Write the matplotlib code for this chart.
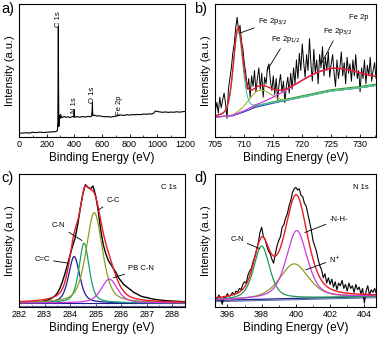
import numpy as np
import matplotlib
matplotlib.use("Agg")
import matplotlib.pyplot as plt

plt.rcParams['font.family'] = ['Liberation Sans', 'DejaVu Sans']

# ---- a) survey spectrum ----
survey_ev = [0, 25, 50, 75, 100, 125, 150, 175, 200, 225, 250, 270, 278, 281,
             283, 284.5, 286, 288, 290, 293, 297, 300, 310, 325, 340, 355, 370,
             385, 395, 398, 400, 402, 405, 420, 440, 460, 480, 500, 515, 525,
             529, 531, 533, 536, 545, 560, 580, 600, 620, 640, 660, 680, 700,
             720, 740, 760, 780, 800, 820, 840, 860, 880, 900, 920, 940, 960,
             975, 985, 1000, 1020, 1040, 1060, 1080, 1100, 1120, 1140, 1160,
             1180, 1200]
survey_int = [2.8, 3.0, 3.2, 3.0, 3.6, 3.3, 3.7, 3.4, 3.6, 3.8, 3.9, 4.2, 5.0, 12,
              50, 83, 40, 8, 10, 16, 14, 17, 14.5, 15.5, 14.8, 15.2, 14.6,
              15.4, 15, 19, 20, 15.5, 14.8, 15.3, 14.9, 15.4, 15, 15.6, 15.2, 15.8,
              20, 26, 17, 16, 16.5, 15.8, 16, 15.5, 15.2, 15.4, 15, 15.3, 15.6,
              16.3, 16.6, 16.2, 16.8, 16.5, 16.9, 16.7, 17, 16.8, 17.3, 17.1, 17.4, 17.3,
              18, 19.5, 19.3, 18.8, 18.6, 18.9, 18.5, 18.8, 18.6, 19, 18.7,
              19, 19.2]
survey_labels = ["C 1s", "N 1s", "O 1s", "Fe 2p"]
survey_label_ev = [285, 400, 532, 725]
survey_label_y = [89, 24, 32, 24]

# ---- b) Fe 2p ----
fe_raw = [20, 26, 18, 30, 22, 28, 33, 25, 14, 36, 44, 52, 63, 70, 82, 90, 80, 84,
          72, 66, 55, 48, 36, 44, 30, 46, 38, 50, 34, 44, 52, 36, 48, 30, 45, 40,
          52, 55, 42, 35, 46, 32, 44, 28, 40, 47, 34, 42, 26, 38, 45, 33, 48, 36,
          52, 40, 58, 44, 63, 50, 70, 56, 45, 62, 50, 74, 55, 42, 66, 48, 58, 40,
          62, 52, 68, 46, 60, 50, 64, 45, 55, 62, 48, 38, 58, 44, 52, 64, 46, 56,
          40, 60, 48, 55, 42, 58, 46, 62, 44, 50, 34, 52, 44, 58, 40, 54, 46, 60,
          42, 50, 56, 44, 48]
fe_bg_ev = [705, 708, 710, 712, 715, 720, 725, 730, 733]
fe_bg = [15, 16, 19, 22.5, 25.5, 30, 34.6, 37, 39]
# peak centre, height, fwhm, lorentz fraction
fe_peaks = {"2p3/2": (708.9, 63, 1.9, 0.3),
            "sat": (712.6, 12, 4.5, 0.0),
            "2p1/2": (724.6, 17, 14.0, 0.0)}

# ---- c) C 1s ----
c_raw = [3.0, 3.1, 3.1, 3.2, 3.3, 3.4, 3.5, 3.7, 3.9, 4.2, 4.6, 5.1, 5.8, 6.8,
         8.2, 10.5, 14, 19, 25, 32, 39, 46, 52, 62, 74, 85, 92, 90, 89, 91, 84,
         73, 58, 47, 40, 35, 32, 29, 26, 22, 19.5, 17, 15.5, 14, 12.5, 11, 10,
         9, 8, 7.5, 7.2, 6.6, 6.2, 5.8, 5.5, 5.3, 5.1, 4.9, 4.7, 4.6, 4.5, 4.4,
         4.3, 4.2, 4.1, 4.0]
c_base = 3.0
c_peaks = {"C=C": (284.16, 35, 0.51, 0.5),
           "C-N": (284.55, 45, 0.47, 0.5),
           "C-C": (284.95, 68, 0.75, 0.5),
           "PB C-N": (285.54, 18, 0.75, 0.5)}

# ---- d) N 1s ----
n_raw = [8, 6, 9, 7, 2, 8, 7, 10, 8, 9, 11, 9, 12, 11, 14, 13, 17, 19, 18, 24,
         27, 29, 34, 38, 43, 48, 56, 60, 53, 51, 46, 42, 40, 36, 33, 40, 46, 50,
         53, 60, 62, 67, 70, 76, 80, 86, 89, 90, 88, 89, 84, 83, 78, 76, 70, 64,
         58, 50, 46, 42, 36, 31, 28, 22, 25, 18, 22, 17, 21, 15, 19, 13, 18, 16,
         20, 14, 17, 12, 18, 14, 16, 11, 17, 13, 15, 10, 14, 3, 12, 16, 9, 13,
         11, 14, 10]
n_base_ev = [395.3, 404.7]
n_base = [5.0, 8.0]
n_peaks = {"C-N": (398.0, 40, 1.1, 0.5),
           "-N-H-": (400.05, 51, 1.45, 0.5),
           "N+": (399.9, 26, 2.0, 0.5)}

RED = '#e81c24'
MAG = '#cc3ae0'
NAVY = '#1c1c96'
TEAL = '#1a9e70'
OLIVE = '#86a01e'


def pv(x, c, h, w, eta):
    """Pseudo-Voigt peak."""
    g = np.exp(-4 * np.log(2) * ((x - c) / w) ** 2)
    lo = 1 / (1 + (2 * (x - c) / w) ** 2)
    return h * (eta * lo + (1 - eta) * g)


def style(ax, label):
    ax.set_yticks([])
    ax.tick_params(axis='x', direction='in', labelsize=6.5, length=2.5,
                   width=0.6, pad=2.5)
    ax.tick_params(axis='x', which='minor', direction='in', length=1.5,
                   width=0.5)
    for s in ax.spines.values():
        s.set_linewidth(0.8)
    ax.set_xlabel('Binding Energy (eV)', fontsize=8.5, labelpad=2)
    ax.set_ylabel('Intensity (a.u.)', fontsize=8, labelpad=3)
    ax.set_ylim(0, 100)


def tag(ax, xy, xytext, text, ha='left'):
    ax.annotate(text, xy=xy, xytext=xytext, fontsize=5.5, ha=ha, va='center',
                arrowprops=dict(arrowstyle='-', lw=0.6, color='k',
                                shrinkA=0.5, shrinkB=0))


fig = plt.figure(figsize=(3.84, 3.40), dpi=100)
axa = fig.add_axes([0.0495, 0.597, 0.432, 0.391])
axb = fig.add_axes([0.561, 0.597, 0.419, 0.391])
axc = fig.add_axes([0.0495, 0.097, 0.432, 0.391])
axd = fig.add_axes([0.561, 0.097, 0.419, 0.391])

# a)
axa.plot(survey_ev, survey_int, color='k', lw=0.8)
axa.set_xlim(0, 1200)
axa.set_xticks(range(0, 1201, 200))
axa.set_xticks(range(0, 1201, 100), minor=True)
for t, x, y in zip(survey_labels, survey_label_ev, survey_label_y):
    axa.text(x, y, t, rotation=90, fontsize=5.5, ha='center', va='center')
style(axa, 'a)')

# b)
xb = np.linspace(705, 733, len(fe_raw))
bg_b = np.interp(xb, fe_bg_ev, fe_bg)
pb = {k: pv(xb, *v) for k, v in fe_peaks.items()}
axb.plot(xb, fe_raw, color='k', lw=0.7)
axb.plot(xb, bg_b, color='#2430c8', lw=0.8)
axb.plot(xb[xb > 711], bg_b[xb > 711] + 1.0, color='#2f9a3a', lw=0.8)
axb.plot(xb, bg_b + pb["sat"], color='#a8b030', lw=0.8)
axb.plot(xb, bg_b + pb["2p3/2"], color='#3ec8a0', lw=0.8)
axb.plot(xb, bg_b + pb["2p1/2"], color=MAG, lw=0.9)
axb.plot(xb, bg_b + pb["2p3/2"] + pb["sat"] + pb["2p1/2"], color=RED, lw=1.0)
axb.set_xlim(705, 732.8)
axb.set_xticks(range(705, 731, 5))
axb.set_xticks(np.arange(705, 733, 2.5), minor=True)
tag(axb, (709.1, 78), (712.3, 87), 'Fe 2p$_{3/2}$')
tag(axb, (713.9, 50), (714.6, 73), 'Fe 2p$_{1/2}$')
tag(axb, (723.4, 56), (723.6, 79), 'Fe 2p$_{3/2}$')
axb.text(0.95, 0.9, 'Fe 2p', transform=axb.transAxes, fontsize=5.5,
         ha='right', va='center')
style(axb, 'b)')

# c)
xc = np.linspace(282, 288.5, len(c_raw))
xf = np.linspace(282, 288.5, 300)
pc = {k: pv(xf, *v) for k, v in c_peaks.items()}
axc.plot(xf, np.full_like(xf, 0.8), color='#5a64a8', lw=0.8)
axc.plot(xf, np.full_like(xf, c_base), color=NAVY, lw=0.8)
axc.plot(xc, c_raw, color='k', lw=1.0)
axc.plot(xf, c_base + pc["C=C"], color=NAVY, lw=0.9)
axc.plot(xf, c_base + pc["C-N"], color=TEAL, lw=0.9)
axc.plot(xf, c_base + pc["C-C"], color=OLIVE, lw=0.9)
axc.plot(xf, c_base + pc["PB C-N"], color=MAG, lw=0.9)
axc.plot(xf, c_base + sum(pc.values()), color=RED, lw=1.0)
axc.set_xlim(282, 288.5)
axc.set_xticks(range(282, 289))
axc.set_xticks(np.arange(282, 288.6, 0.5), minor=True)
tag(axc, (285.1, 73), (285.42, 80), 'C-C')
tag(axc, (284.47, 50), (283.82, 61), 'C-N', ha='right')
tag(axc, (283.92, 33), (283.22, 36), 'C=C', ha='right')
tag(axc, (285.69, 22), (286.27, 28.6), 'PB C-N')
axc.text(0.95, 0.9, 'C 1s', transform=axc.transAxes, fontsize=5.5,
         ha='right', va='center')
style(axc, 'c)')

# d)
xd = np.linspace(395.3, 404.7, len(n_raw))
xg = np.linspace(395.3, 404.7, 300)
bg_d = np.interp(xg, n_base_ev, n_base)
pd_ = {k: pv(xg, *v) for k, v in n_peaks.items()}
axd.plot(xg, bg_d - 1.0, color='#4a6a9a', lw=0.7)
axd.plot(xg, bg_d, color=NAVY, lw=0.9)
axd.plot(xd, n_raw, color='k', lw=0.8)
axd.plot(xg, bg_d + pd_["N+"], color=OLIVE, lw=0.9)
axd.plot(xg, bg_d + pd_["C-N"], color='#1f9a55', lw=0.9)
axd.plot(xg, bg_d + pd_["-N-H-"], color=MAG, lw=0.9)
axd.plot(xg, bg_d + sum(pd_.values()), color=RED, lw=1.0)
axd.set_xlim(395.3, 404.7)
axd.set_xticks(range(396, 405, 2))
axd.set_xticks(range(396, 405, 1), minor=True)
tag(axd, (400.52, 56), (401.96, 66), '-N-H-')
tag(axd, (397.88, 44), (396.96, 51), 'C-N', ha='right')
tag(axd, (400.58, 28), (401.96, 36), 'N$^{+}$')
axd.text(0.95, 0.9, 'N 1s', transform=axd.transAxes, fontsize=5.5,
         ha='right', va='center')
style(axd, 'd)')

for t, x, y in [('a)', 0.004, 0.995), ('b)', 0.505, 0.995),
                ('c)', 0.004, 0.497), ('d)', 0.505, 0.497)]:
    fig.text(x, y, t, fontsize=10.5, ha='left', va='top')

fig.savefig('out.png', dpi=100)
